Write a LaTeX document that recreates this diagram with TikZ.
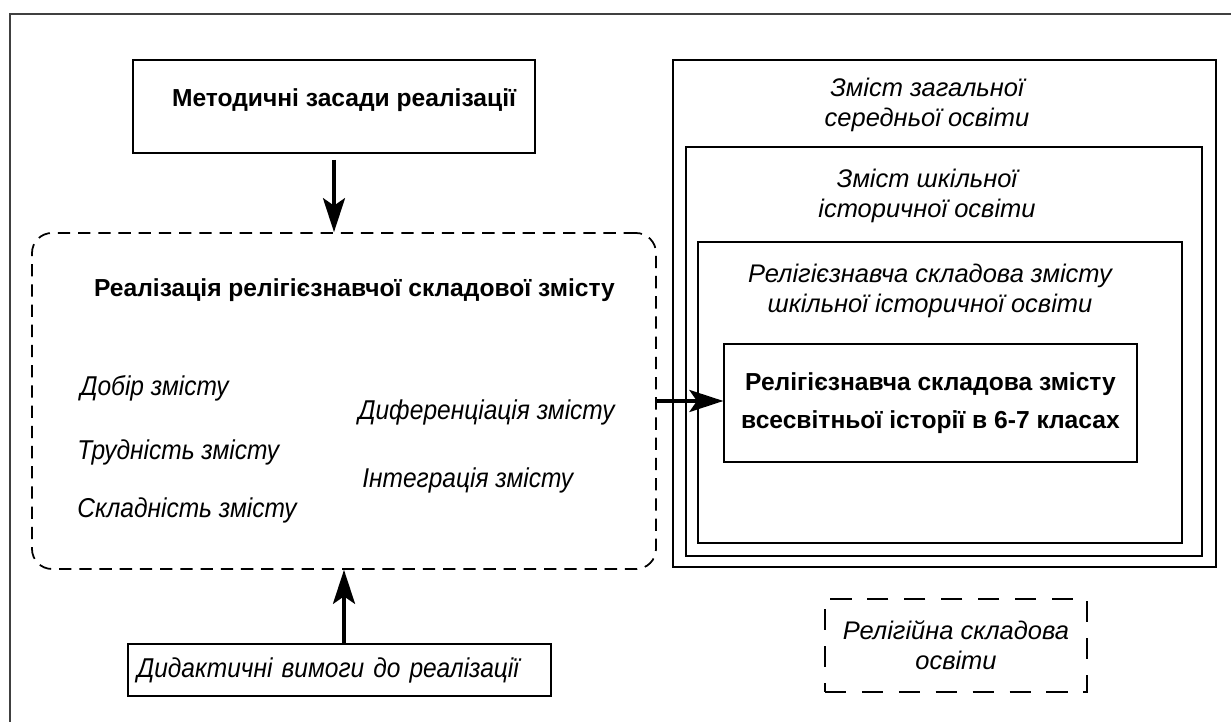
\documentclass[tikz,border=0pt]{standalone}
\usepackage{fontspec}
\setmainfont{Liberation Sans}
\newfontfamily\narrowsans[FakeStretch=0.9]{Liberation Sans}
\usepackage{tikz}
\usetikzlibrary{arrows.meta}
\tikzset{
	box/.style={draw, rectangle, line width=0.7pt, inner sep=0pt},
	dbox/.style={draw, rectangle, rounded corners=0.4cm, line width=1pt, dash pattern=on 7pt off 4.5pt, inner sep=0pt},
	bld/.style={font=\fontsize{14}{22}\selectfont\bfseries, align=center},
	itl/.style={font=\fontsize{14.5}{17}\selectfont\itshape, align=center, inner sep=0pt},
	nitl/.style={font=\fontsize{15.5}{17}\selectfont\narrowsans\itshape, inner sep=0pt},
	arr/.style={line width=2pt, -{Stealth[length=0.68cm, width=0.44cm, inset=0.15cm]}}
}

\begin{document}
\begin{tikzpicture}
	\useasboundingbox (0,0) rectangle (24.62,14.44);
	\clip (0,0) rectangle (24.62,14.44);
	\draw[line width=1.1pt, black!75] (0.2,-1) rectangle (26,14.16);
	
	\node[box, line width=1pt, minimum width=8.04cm, minimum height=1.86cm, xshift=6.68cm, yshift=12.31cm] (zas) {};
	\node[bld, xshift=6.88cm, yshift=12.44cm] (zast) {Методичні засади реалізації};
	
	\node[dbox, minimum width=12.48cm, minimum height=6.72cm, xshift=6.88cm, yshift=6.42cm] (real) {};
	\node[bld, xshift=7.09cm, yshift=8.64cm] (realt) {Реалізація релігієзнавчої складової змісту};
	\node[nitl, anchor=west, xshift=1.6cm, yshift=6.68cm] (dobir) {Добір змісту};
	\node[nitl, anchor=west, xshift=1.54cm, yshift=5.4cm] (trud) {Трудність змісту};
	\node[nitl, anchor=west, xshift=1.54cm, yshift=4.24cm] (sklad) {Складність змісту};
	\node[nitl, anchor=west, xshift=7.16cm, yshift=6.2cm] (dyf) {Диференціація змісту};
	\node[nitl, anchor=west, xshift=7.24cm, yshift=4.84cm] (integ) {Інтеграція змісту};
	
	\node[box, nitl, align=left, text width=8.1cm, inner xsep=0.18cm, minimum height=1.04cm, xshift=6.79cm, yshift=1.04cm] (did) {Дидактичні вимоги до реалізації};
	
	\node[box, minimum width=10.86cm, minimum height=10.14cm, xshift=18.89cm, yshift=8.17cm] (zm) {};
	\node[box, minimum width=10.32cm, minimum height=8.18cm, xshift=18.88cm, yshift=7.41cm] (shk) {};
	\node[box, minimum width=9.68cm, minimum height=6.02cm, xshift=18.8cm, yshift=6.59cm] (rel) {};
	\node[box, bld, minimum width=8.26cm, minimum height=2.36cm, xshift=18.61cm, yshift=6.38cm] (vses) {Релігієзнавча складова змісту\\всесвітньої історії в 6-7 класах};
	\node[itl, xshift=18.54cm, yshift=12.34cm] (zmt) {Зміст загальної\\середньої освіти};
	\node[itl, xshift=18.54cm, yshift=10.52cm] (shkt) {Зміст шкільної\\історичної освіти};
	\node[itl, xshift=18.6cm, yshift=8.62cm] (relt) {Релігієзнавча складова змісту\\шкільної історичної освіти};
	
	\node[draw, rectangle, line width=1.2pt, dash pattern=on 12pt off 9pt, itl, minimum width=5.24cm, minimum height=1.86cm, xshift=19.12cm, yshift=1.53cm] (relg) {Релігійна складова\\освіти};
	
	\draw[arr, shorten <=0.12cm] (zas.south) -- (zas.south |- real.north);
	\draw[arr] (did.north -| real.south) -- (real.south);
	\draw[arr] (real.east) -- (real.east -| vses.west);
\end{tikzpicture}
\end{document}
